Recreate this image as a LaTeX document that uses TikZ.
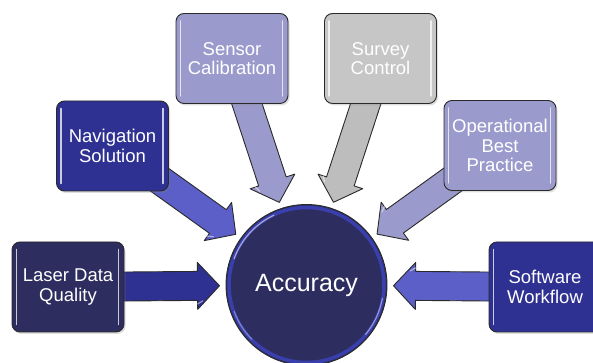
\documentclass[tikz,border=0pt]{standalone}
\usepackage{fontspec}
\setmainfont{Liberation Sans}
\usetikzlibrary{calc,backgrounds,shadows}

\definecolor{navy}{HTML}{2D2E5F}
\definecolor{royal}{HTML}{2E3192}
\definecolor{periw}{HTML}{5B5FC7}
\definecolor{lavender}{HTML}{9A9BCC}
\definecolor{silver}{HTML}{C6C6C6}
\definecolor{silverdark}{HTML}{BDBDBD}
\definecolor{rimblue}{HTML}{3A3FAE}
\definecolor{outline}{HTML}{2A2A2A}

\tikzset{
  factor/.style={rectangle, rounded corners=8pt, minimum width=112pt,
    minimum height=90pt, draw=outline, line width=0.9pt, text=white,
    align=center, font=\fontsize{18.5}{19.5}\selectfont, inner sep=2pt,
    drop shadow={shadow xshift=1.5pt, shadow yshift=-2pt, opacity=0.25}},
  hub/.style={circle, minimum size=161pt, inner sep=0pt, fill=navy,
    draw=outline, line width=0.9pt, text=white,
    font=\fontsize{25}{27}\selectfont},
  flow/.style={draw=outline, line width=0.9pt, line join=round},
  gloss/.style={draw=white, opacity=0.75, line width=1.6pt, line cap=round},
}

% block arrow from the centre of #1 to the tip #2, filled with #3
\newcommand\flowarrow[3]{%
  \coordinate (hb) at ($(#2)!22pt!(#1)$);
  \filldraw[flow, fill=#3]
    ($(#1)!14.5pt!90:(#2)$) -- ($(hb)!14.5pt!90:(#2)$) --
    ($(hb)!23.5pt!90:(#2)$) -- (#2) -- ($(hb)!23.5pt!-90:(#2)$) --
    ($(hb)!14.5pt!-90:(#2)$) -- ($(#1)!14.5pt!-90:(#2)$) -- cycle;
  % small sheen near the head
  \draw[white, opacity=0.5, line width=1.2pt, line cap=round]
    ($(hb)!18pt!-90:(#2)$) -- ($($(hb)!18pt!-90:(#2)$)!6pt!($(#2)!0.5!($(hb)!23.5pt!-90:(#2)$)$)$);}

% glossy vertical strips along the sides of a box
\newcommand\glint[1]{%
  \draw[gloss] ([xshift=5pt,yshift=-8pt]#1.north west) -- ([xshift=5pt,yshift=8pt]#1.south west);
  \draw[gloss] ([xshift=-6pt,yshift=-8pt]#1.north east) -- ([xshift=-6pt,yshift=8pt]#1.south east);}

\begin{document}
\begin{tikzpicture}[x=1pt, y=1pt]
\useasboundingbox (0,0) rectangle (593,363);

% outer factors
\node[factor, fill=navy]     (laser)  at (68,76)      {Laser Data\\Quality};
\node[factor, fill=royal]    (nav)    at (112.5,217)  {Navigation\\Solution};
\node[factor, fill=lavender] (sensor) at (232,304.5)  {Sensor\\Calibration};
\node[factor, fill=silver]   (survey) at (380.5,304.5){Survey\\Control};
\node[factor, fill=lavender] (oper)   at (500,217.5)  {Operational\\Best\\Practice};
\node[factor, fill=royal]    (soft)   at (545,76)     {Software\\Workflow};

\foreach \b in {laser,nav,sensor,survey,oper,soft} {\glint{\b}}

% central hub
\node[hub] (acc) at (306.5,78) {Accuracy};
\draw[rimblue, line width=3.5pt] (acc.center) circle[radius=77.5pt];
\draw[white, opacity=0.55, line width=1.2pt, line cap=round]
  ([shift={(115:77pt)}]acc.center) arc[start angle=115, end angle=160, radius=77pt];
\draw[white, opacity=0.45, line width=1.2pt, line cap=round]
  ([shift={(-10:77pt)}]acc.center) arc[start angle=-10, end angle=-40, radius=77pt];
\draw[white, opacity=0.35, line width=1.2pt, line cap=round]
  ([shift={(200:77pt)}]acc.center) arc[start angle=200, end angle=225, radius=77pt];

% arrow tips, just outside the hub
\coordinate (tlaser)  at ($(acc.center)!87pt!(laser.center)$);
\coordinate (tnav)    at ($(acc.center)!87pt!(nav.center)$);
\coordinate (tsensor) at ($(acc.center)!87pt!(sensor.center)$);
\coordinate (tsurvey) at ($(acc.center)!87pt!(survey.center)$);
\coordinate (toper)   at ($(acc.center)!87pt!(oper.center)$);
\coordinate (tsoft)   at ($(acc.center)!87pt!(soft.center)$);

\begin{scope}[on background layer]
  \flowarrow{laser}{tlaser}{royal}
  \flowarrow{nav}{tnav}{periw}
  \flowarrow{sensor}{tsensor}{lavender}
  \flowarrow{survey}{tsurvey}{silverdark}
  \flowarrow{oper}{toper}{lavender}
  \flowarrow{soft}{tsoft}{periw}
\end{scope}
\end{tikzpicture}
\end{document}
